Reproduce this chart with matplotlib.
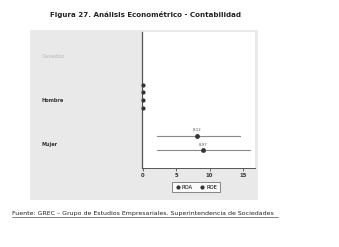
import matplotlib.pyplot as plt
from matplotlib.patches import Rectangle
from matplotlib.lines import Line2D

# datos
grupos = ["Casados", "Hombre", "Mujer"]
grupo_y = [0.0, 1.0, 2.0]

# Hombre: estimaciones cerca de cero
hombre_y = [0.65, 0.82, 1.0, 1.18]
hombre_x = [0.0, 0.0, 0.0, 0.0]

# Mujer: ROA y ROE con intervalos
mujer_series = ["ROA", "ROE"]
mujer_y = [1.82, 2.15]
mujer_x = [8.12, 8.97]
mujer_lo = [2.2, 2.2]
mujer_hi = [14.6, 16.0]
mujer_txt = ["8.12", "8.97"]

xticks = [0, 5, 10, 15]

fig = plt.figure(figsize=(3.39, 2.47), dpi=100)
fig.patch.set_facecolor("white")

# panel gris de fondo
fig.patches.append(Rectangle((30 / 339, 1 - 200 / 247), 228 / 339, 170 / 247,
                             transform=fig.transFigure, facecolor="#e9e9e9",
                             edgecolor="none", zorder=-5))

ax = fig.add_axes([142 / 339, 1 - 168 / 247, 113 / 339, 136 / 247])
ax.set_zorder(2)
ax.set_facecolor("white")

ax.scatter(hombre_x, hombre_y, s=4, color="#333333", zorder=3, clip_on=False)

for y, x, lo, hi, t in zip(mujer_y, mujer_x, mujer_lo, mujer_hi, mujer_txt):
    ax.plot([lo, hi], [y, y], color="#8a8a8a", lw=0.8, zorder=2)
    ax.scatter([x], [y], s=6, color="#333333", zorder=3)
    ax.text(x, y - 0.08, t, fontsize=2.8, color="#555555", ha="center", va="bottom")

ax.set_xlim(-0.1, 16.8)
ax.set_ylim(2.55, -0.55)
ax.set_xticks(xticks)
ax.set_xticklabels([str(v) for v in xticks], fontsize=3.8, color="#333333", fontweight="bold")
ax.tick_params(axis="x", length=2, width=0.5, pad=1.5, colors="#333333")

ax.set_yticks(grupo_y)
ax.set_yticklabels(grupos, fontsize=3.6, fontweight="bold", ha="left")
ax.tick_params(axis="y", length=0, pad=72)
for lab in ax.get_yticklabels():
    lab.set_color("#c8c8c8" if lab.get_text() == "Casados" else "#333333")

for s in ["top", "right"]:
    ax.spines[s].set_visible(False)
ax.spines["left"].set_color("#555555")
ax.spines["left"].set_linewidth(0.9)
ax.spines["bottom"].set_color("#555555")
ax.spines["bottom"].set_linewidth(0.7)

handles = [Line2D([], [], marker="o", ls="none", color="#333333", markersize=2)
           for _ in mujer_series]
leg = fig.legend(handles, mujer_series, loc="center", bbox_to_anchor=(196 / 339, 1 - 187 / 247),
                 ncol=2, fontsize=3.8, frameon=True, handletextpad=0.3, columnspacing=1.2,
                 borderpad=0.5, handlelength=1.0, fancybox=False)
leg.get_frame().set_edgecolor("#333333")
leg.get_frame().set_linewidth(0.5)
leg.set_zorder(3)

fig.text(145 / 339, 1 - 15 / 247, "Figura 27. Análisis Econométrico - Contabilidad",
         fontsize=5.1, fontweight="bold", ha="center", va="center", color="#222222")

fig.text(12 / 339, 1 - 213 / 247,
         "Fuente: GREC \u2013 Grupo de Estudios Empresariales. Superintendencia de Sociedades",
         fontsize=4.5, ha="left", va="center", color="#222222")
fig.add_artist(Line2D([12 / 339, 278 / 339], [1 - 216.5 / 247, 1 - 216.5 / 247],
                      transform=fig.transFigure, color="#222222", lw=0.4))

fig.savefig("out.png", dpi=100)
